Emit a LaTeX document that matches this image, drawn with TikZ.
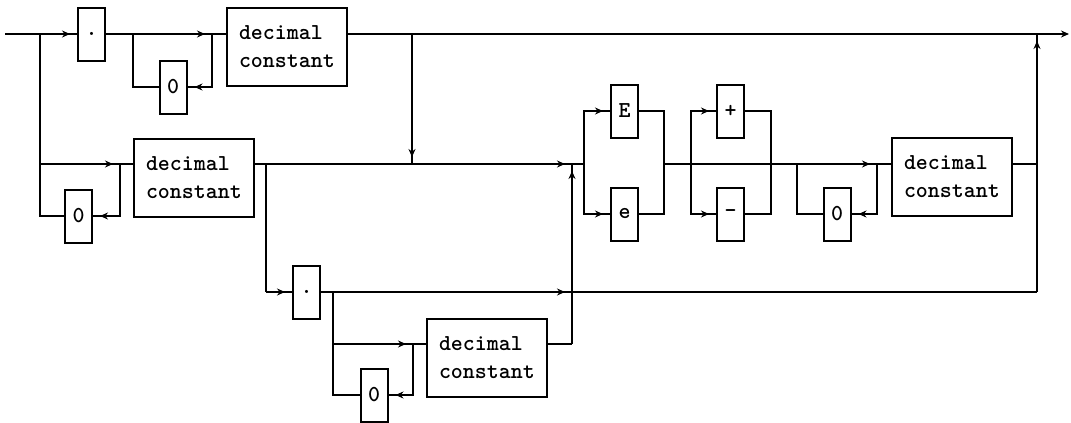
\documentclass[tikz,border=0pt]{standalone}
\usetikzlibrary{arrows.meta, positioning, calc, decorations.markings}

\begin{document}
\begin{tikzpicture}[x=0.5pt, y=-0.5pt, line width=1pt,
    tokbox/.style={rectangle, draw=black, line width=1pt, minimum width=13.5pt,
      minimum height=26.5pt, inner sep=0pt, font=\ttfamily\bfseries\fontsize{11.4}{12}\selectfont},
    constbox/.style={rectangle, draw=black, line width=1pt, anchor=north west, align=left,
      text width=48pt, minimum width=60pt, minimum height=39pt, inner xsep=6pt, inner ysep=0pt,
      font=\ttfamily\bfseries\fontsize{11.4}{14}\selectfont},
    arrow/.style={postaction={decorate}, decoration={markings,
      mark=at position -3.5pt with {\arrow{Stealth[length=4pt, width=3.5pt]}}}},
    endarrow/.style={-{Stealth[length=4pt, width=3.5pt]}}]
    \useasboundingbox (0,0) rectangle (1071,423);
    \coordinate (in) at (5,34);
    \coordinate (out) at (1069,34);
    \coordinate (sA) at (40,34);
    \coordinate (lA) at (133,34);
    \coordinate (mA) at (212,34);
    \coordinate (dA) at (412,34);
    \coordinate (eA) at (1037,34);
    \coordinate (sB) at (40,164);
    \coordinate (mB) at (120,164);
    \coordinate (bB) at (266,164);
    \coordinate (dB) at (412,164);
    \coordinate (uB) at (572,164);
    \coordinate (xB) at (584,164);
    \coordinate (yB) at (664,164);
    \coordinate (pB) at (691,164);
    \coordinate (qB) at (771,164);
    \coordinate (lB) at (797,164);
    \coordinate (rB) at (877,164);
    \coordinate (eB) at (1037,164);
    \coordinate (bC) at (266,292);
    \coordinate (lC) at (333,292);
    \coordinate (uC) at (572,292);
    \coordinate (eC) at (1037,292);
    \coordinate (lD) at (333,344);
    \coordinate (mD) at (413,344);
    \coordinate (uD) at (572,344);

    \node[tokbox] (dot1) at (91.5,34) {.};
    \node[tokbox] (zero1) at (173,87) {0};
    \node[constbox] (dc1) at (226,7) {decimal\\constant};
    \node[tokbox] (zero2) at (78.5,216) {0};
    \node[constbox] (dc2) at (133,138) {decimal\\constant};
    \node[tokbox] (E) at (624.5,111) {E};
    \node[tokbox] (e) at (624.5,214) {e};
    \node[tokbox] (plus) at (730.5,111) {+};
    \node[tokbox] (minus) at (730.5,214) {-};
    \node[tokbox] (zero3) at (837,214) {0};
    \node[constbox] (dc3) at (891,137) {decimal\\constant};
    \node[tokbox] (dot2) at (306.5,292) {.};
    \node[tokbox] (zero4) at (374,395) {0};
    \node[constbox] (dc4) at (426,318) {decimal\\constant};

    \draw (in) -- (sA);
    \draw[arrow] (sA) -- (dot1);
    \draw (dot1) -- (lA);
    \draw[arrow] (lA) -- (mA);
    \draw (mA) -- (dc1.west |- mA);
    \draw[arrow] (mA) |- (zero1);
    \draw (zero1) -| (lA);
    \draw (dc1.east |- dA) -- (dA) -- (eA);
    \draw[endarrow] (eA) -- (out);

    \draw (sA) -- (sB);
    \draw (sB) |- (zero2);
    \draw[arrow] (sB) -- (mB);
    \draw (mB) -- (dc2.west |- mB);
    \draw[arrow] (mB) |- (zero2);
    \draw (dc2.east |- bB) -- (bB) -- (dB);
    \draw[arrow] (dA) -- (dB);
    \draw[arrow] (dB) -- (uB);
    \draw (uB) -- (xB);

    \draw[arrow] (xB) |- (E);
    \draw[arrow] (xB) |- (e);
    \draw (E) -| (yB);
    \draw (e) -| (yB);
    \draw (yB) -- (pB) -- (qB);
    \draw[arrow] (pB) |- (plus);
    \draw[arrow] (pB) |- (minus);
    \draw (plus) -| (qB);
    \draw (minus) -| (qB);
    \draw (qB) -- (lB);
    \draw[arrow] (lB) -- (rB);
    \draw (rB) -- (dc3.west |- rB);
    \draw[arrow] (rB) |- (zero3);
    \draw (zero3) -| (lB);
    \draw (dc3.east |- eB) -- (eB);

    \draw (bB) -- (bC);
    \draw[arrow] (bC) -- (dot2);
    \draw (dot2) -- (lC);
    \draw[arrow] (lC) -- (uC);
    \draw (uC) -- (eC);
    \draw[arrow] (eC) -- (eA);

    \draw (lC) -- (lD);
    \draw[arrow] (lD) -- (mD);
    \draw (mD) -- (dc4.west |- mD);
    \draw[arrow] (mD) |- (zero4);
    \draw (zero4) -| (lD);
    \draw (dc4.east |- uD) -- (uD);
    \draw[arrow] (uD) -- (uB);
  \end{tikzpicture}
\end{document}
